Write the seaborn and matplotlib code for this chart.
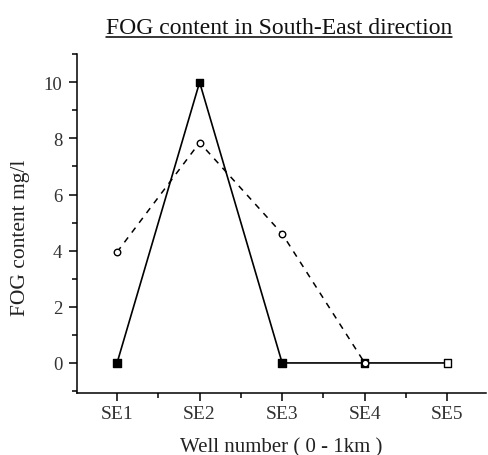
import numpy as np
import pandas as pd
import seaborn as sns
import matplotlib
matplotlib.use("Agg")
import matplotlib.pyplot as plt
from matplotlib.ticker import MultipleLocator
from matplotlib.lines import Line2D

wells = ["SE1", "SE2", "SE3", "SE4", "SE5"]
fog_solid = [0, 10, 0, 0, 0]
fog_dashed = [3.95, 7.85, 4.6, 0]
title = "FOG content in South-East direction"
xlabel = "Well number ( 0 - 1km )"
ylabel = "FOG content mg/l"

sns.set_theme(style="ticks")
plt.rcParams["font.family"] = ["Liberation Serif", "DejaVu Serif"]

fig = plt.figure(figsize=(4.89, 4.56), dpi=100)
ax = fig.add_axes([0.1575, 0.136, 0.994 - 0.1575, 0.879 - 0.136])

x_solid = np.arange(len(fog_solid))
x_dashed = np.arange(len(fog_dashed))
df_s = pd.DataFrame({"x": x_solid, "y": fog_solid})
df_d = pd.DataFrame({"x": x_dashed, "y": fog_dashed})

sns.lineplot(data=df_s, x="x", y="y", ax=ax, color="black", linewidth=1.2, zorder=2)
sns.lineplot(data=df_d, x="x", y="y", ax=ax, color="black", linewidth=1.1,
             linestyle=(0, (4, 4)), zorder=2)

# solid series markers: filled squares, last one open
fills = ["black"] * (len(fog_solid) - 1) + ["white"]
ax.scatter(x_solid, fog_solid, marker="s", s=28, facecolors=fills,
           edgecolors="black", linewidths=1.0, zorder=3)
# dashed series markers: open circles
ax.scatter(x_dashed, fog_dashed, marker="o", s=22, facecolors="white",
           edgecolors="black", linewidths=1.0, zorder=4)

ax.set_xlim(-0.485, 4.47)
ax.set_ylim(-1.07, 11.0)
ax.set_xticks(x_solid)
ax.set_xticklabels(wells)
ax.xaxis.set_minor_locator(MultipleLocator(0.5))
ax.yaxis.set_major_locator(MultipleLocator(2))
ax.yaxis.set_minor_locator(MultipleLocator(1))

for s in ["top", "right"]:
    ax.spines[s].set_visible(False)
for s in ["left", "bottom"]:
    ax.spines[s].set_linewidth(1.1)
    ax.spines[s].set_color("black")

ax.tick_params(axis="both", which="major", direction="out", length=5.5, width=1.1,
               colors="black")
ax.tick_params(axis="both", which="minor", direction="out", length=3.5, width=1.1,
               colors="black")
ax.tick_params(axis="x", which="major", labelsize=14, pad=3)
ax.tick_params(axis="y", which="major", labelsize=13.5, pad=5)
for lab in ax.get_xticklabels():
    lab.set_color("#333333")
for lab in ax.get_yticklabels():
    lab.set_color("#333333")

ax.set_xlabel(xlabel, fontsize=15, color="#222222", va="center")
ax.set_ylabel(ylabel, fontsize=15.5, color="#222222", va="center")
ax.xaxis.set_label_coords(0.5, -0.158)
ax.yaxis.set_label_coords(-0.139, 0.46)

t = fig.text(0.571, 0.925, title, ha="center", va="baseline", fontsize=17, color="#111111")
fig.canvas.draw()
bb = t.get_window_extent().transformed(fig.transFigure.inverted())
yline = 1 - 37.5 / 456
fig.add_artist(Line2D([bb.x0, bb.x1], [yline, yline], transform=fig.transFigure,
                      color="black", linewidth=1.1))

fig.savefig("out.png", dpi=100)
